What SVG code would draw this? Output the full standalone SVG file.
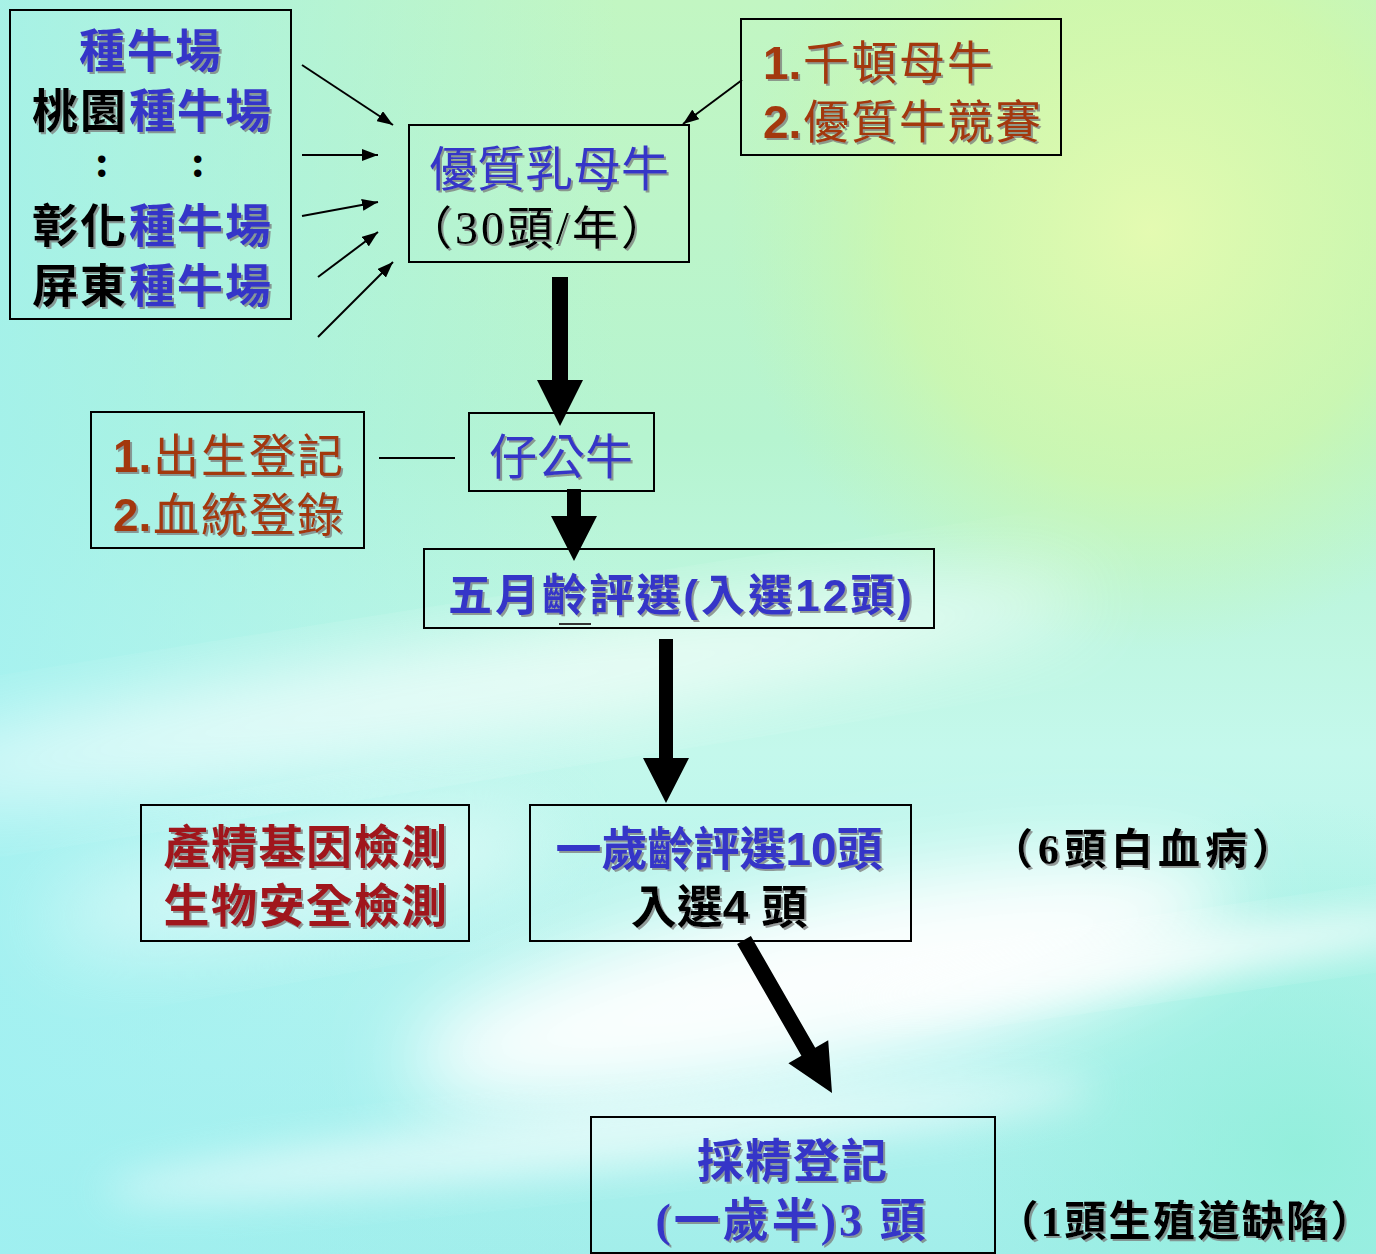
<svg xmlns="http://www.w3.org/2000/svg" width="1376" height="1254" viewBox="0 0 1376 1254">
<style>
.box{fill:none;stroke:#000;stroke-width:2}
.t{font-family:"Noto Sans CJK TC","Noto Sans CJK SC",sans-serif;filter:url(#sh)}
.s{font-family:"Liberation Serif","Noto Sans CJK TC",serif}
.a{font-family:"Liberation Sans","Noto Sans CJK TC",sans-serif}
.b{font-weight:700}
.blue{fill:#3535c8}
.blk{fill:#000}
.brn{fill:#a3380f}
.red{fill:#a0141e}
.thin{stroke:#000;stroke-width:2;fill:none;marker-end:url(#ah)}
</style>
<defs>
<filter id="sh" x="-5%" y="-10%" width="115%" height="130%">
<feDropShadow dx="2" dy="2" stdDeviation="0.6" flood-color="#7a7a7a" flood-opacity="0.75"/>
</filter>
<filter id="blur40" x="-50%" y="-50%" width="200%" height="200%"><feGaussianBlur stdDeviation="40"/></filter>
<filter id="blur20" x="-50%" y="-50%" width="200%" height="200%"><feGaussianBlur stdDeviation="20"/></filter>
<marker id="ah" viewBox="0 0 16 12" refX="16" refY="6" markerWidth="16" markerHeight="12" markerUnits="userSpaceOnUse" orient="auto">
<path d="M0,0 L16,6 L0,12 z" fill="#000"/>
</marker>
<linearGradient id="bgv" x1="0" y1="0" x2="0" y2="1">
<stop offset="0" stop-color="#c2f6c2"/>
<stop offset="0.35" stop-color="#b6f4d0"/>
<stop offset="0.6" stop-color="#c4f8ec"/>
<stop offset="0.85" stop-color="#b0f2ee"/>
<stop offset="1" stop-color="#a2eeea"/>
</linearGradient>
<linearGradient id="bgh" x1="0" y1="0" x2="1" y2="0">
<stop offset="0" stop-color="#9ef0f2" stop-opacity="0.75"/>
<stop offset="0.45" stop-color="#9ef0f2" stop-opacity="0"/>
</linearGradient>
<radialGradient id="yel" cx="1150" cy="230" r="420" gradientUnits="userSpaceOnUse">
<stop offset="0" stop-color="#e6fbb0" stop-opacity="0.95"/>
<stop offset="0.6" stop-color="#d6f8a0" stop-opacity="0.6"/>
<stop offset="1" stop-color="#c8f6a8" stop-opacity="0"/>
</radialGradient>
<radialGradient id="br" cx="1300" cy="1150" r="350" gradientUnits="userSpaceOnUse">
<stop offset="0" stop-color="#8eeed8" stop-opacity="0.8"/>
<stop offset="1" stop-color="#8eeed8" stop-opacity="0"/>
</radialGradient>
</defs>

<g id="background">
<rect x="0" y="0" width="1376" height="1254" fill="url(#bgv)"/>
<rect x="0" y="0" width="1376" height="1254" fill="url(#bgh)"/>
<rect x="0" y="0" width="1376" height="1254" fill="url(#yel)"/>
<rect x="0" y="0" width="1376" height="1254" fill="url(#br)"/>
<ellipse cx="480" cy="690" rx="620" ry="45" fill="#ffffff" opacity="0.75" filter="url(#blur40)" transform="rotate(-9 480 690)"/>
<ellipse cx="820" cy="980" rx="420" ry="90" fill="#ffffff" opacity="0.95" filter="url(#blur40)" transform="rotate(-12 820 980)"/>
<ellipse cx="1150" cy="960" rx="300" ry="22" fill="#ffffff" opacity="0.8" filter="url(#blur20)" transform="rotate(-8 1150 960)"/>
<ellipse cx="300" cy="880" rx="260" ry="50" fill="#ffffff" opacity="0.5" filter="url(#blur40)" transform="rotate(-10 300 880)"/>
<ellipse cx="600" cy="1140" rx="500" ry="30" fill="#ffffff" opacity="0.55" filter="url(#blur20)" transform="rotate(-6 600 1140)"/>
</g>

<g id="connectors">
<line class="thin" x1="302" y1="65" x2="393" y2="125"/>
<line class="thin" x1="302" y1="155" x2="378" y2="155"/>
<line class="thin" x1="302" y1="216" x2="378" y2="202"/>
<line class="thin" x1="318" y1="277" x2="378" y2="232"/>
<line class="thin" x1="318" y1="337" x2="393" y2="262"/>
<line class="thin" x1="742" y1="80" x2="683" y2="124"/>
<line x1="379" y1="458" x2="455" y2="458" stroke="#000" stroke-width="2"/>
<polygon points="552,277 568,277 568,380 583,380 560,426 537,380 552,380" fill="#000"/>
<polygon points="567,489 581,489 581,516 597,516 574,561 551,516 567,516" fill="#000"/>
<polygon points="659,639 673,639 673,758 689,758 666,803 643,758 659,758" fill="#000"/>
<polygon points="737.1,944 750.9,936 815.2,1047.8 828.2,1040.3 832,1093 788.4,1063.3 801.4,1055.8" fill="#000"/>
</g>

<g id="n-farms">
<rect class="box" x="10" y="10" width="281" height="309"/>
<text class="t b blue" x="151" y="67" font-size="46" text-anchor="middle" letter-spacing="2">種牛場</text>
<text class="t b blk" x="32" y="127" font-size="46" letter-spacing="2">桃園</text>
<text class="t b blue" x="129" y="127" font-size="46" letter-spacing="2">種牛場</text>
<text class="s b blk" font-size="46" x="102" y="177" text-anchor="middle">:</text>
<text class="s b blk" font-size="46" x="198" y="177" text-anchor="middle">:</text>
<text class="t b blk" x="32" y="242" font-size="46" letter-spacing="2">彰化</text>
<text class="t b blue" x="129" y="242" font-size="46" letter-spacing="2">種牛場</text>
<text class="t b blk" x="32" y="302" font-size="46" letter-spacing="2">屏東</text>
<text class="t b blue" x="129" y="302" font-size="46" letter-spacing="2">種牛場</text>
</g>

<g id="n-cows">
<rect class="box" x="409" y="125" width="280" height="137"/>
<text class="t blue" x="549" y="186" font-size="48" text-anchor="middle">優質乳母牛</text>
<text class="t s blk" x="538" y="244" font-size="46" text-anchor="middle" letter-spacing="3">（30頭/年）</text>
</g>

<g id="n-source">
<rect class="box" x="741" y="19" width="320" height="136"/>
<text class="t a b brn" x="763" y="79" font-size="46">1.</text>
<text class="t brn" x="803" y="79" font-size="46" letter-spacing="2">千頓母牛</text>
<text class="t a b brn" x="763" y="138" font-size="46">2.</text>
<text class="t brn" x="803" y="138" font-size="46" letter-spacing="2">優質牛競賽</text>
</g>

<g id="n-calf">
<rect class="box" x="469" y="413" width="185" height="78"/>
<text class="t blue" x="561" y="474" font-size="48" text-anchor="middle">仔公牛</text>
</g>

<g id="n-reg">
<rect class="box" x="91" y="412" width="273" height="136"/>
<text class="t a b brn" x="113" y="472" font-size="46">1.</text>
<text class="t brn" x="153" y="472" font-size="46" letter-spacing="2">出生登記</text>
<text class="t a b brn" x="113" y="531" font-size="46">2.</text>
<text class="t brn" x="153" y="531" font-size="46" letter-spacing="2">血統登錄</text>
</g>

<g id="n-5m">
<rect class="box" x="424" y="549" width="510" height="79"/>
<text class="t a b blue" x="448" y="611" font-size="44" textLength="464" lengthAdjust="spacing">五月齡評選(入選12頭)</text>
<line x1="559" y1="624" x2="591" y2="624" stroke="#333" stroke-width="2"/>
</g>

<g id="n-1y">
<rect class="box" x="530" y="805" width="381" height="136"/>
<text class="t a b blue" x="719" y="865" font-size="46" text-anchor="middle">一歲齡評選10頭</text>
<text class="t a b blk" x="719" y="923" font-size="46" text-anchor="middle">入選4 頭</text>
</g>

<g id="n-test">
<rect class="box" x="141" y="805" width="328" height="136"/>
<text class="t b red" x="306" y="863" font-size="46" text-anchor="middle" letter-spacing="1.5">產精基因檢測</text>
<text class="t b red" x="306" y="922" font-size="46" text-anchor="middle" letter-spacing="1.5">生物安全檢測</text>
</g>

<g id="n-note6">
<text class="t s b blk" x="1145" y="864" font-size="42" text-anchor="middle" letter-spacing="5">（6頭白血病）</text>
</g>

<g id="n-semen">
<rect class="box" x="591" y="1117" width="404" height="136"/>
<text class="t b blue" x="793" y="1177" font-size="46" text-anchor="middle" letter-spacing="2">採精登記</text>
<text class="t s b blue" x="792" y="1236" font-size="46" text-anchor="middle" letter-spacing="3">(一歲半)3 頭</text>
</g>

<g id="n-note1">
<text class="t s b blk" x="1375" y="1236" font-size="42" text-anchor="end" letter-spacing="2.4">（1頭生殖道缺陷）</text>
</g>
</svg>
